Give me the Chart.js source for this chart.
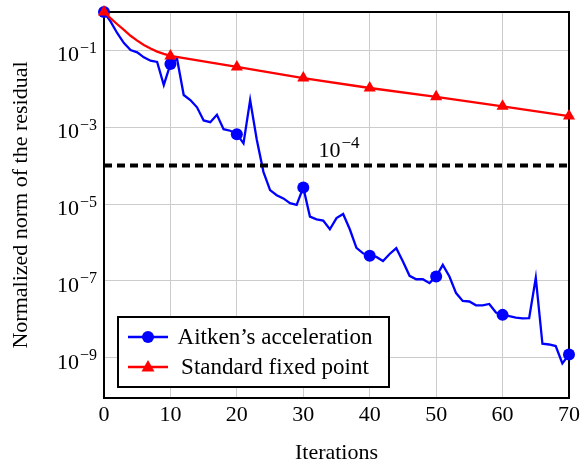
<!DOCTYPE html>
<html>
<head>
<meta charset="utf-8">
<script src="https://cdn.jsdelivr.net/npm/chart.js@4.4.1/dist/chart.umd.min.js"></script>
<style>
  body { margin: 0; background: #fff; }
  #wrap { width: 584px; height: 468px; }
</style>
</head>
<body>
<div id="wrap"><canvas id="chart" width="584" height="468"></canvas></div>
<script>
// values
const aitkenIters = [0,1,2,3,4,5,6,7,8,9,10,11,12,13,14,15,16,17,18,19,20,21,22,23,24,25,26,27,28,29,30,31,32,33,34,35,36,37,38,39,40,41,42,43,44,45,46,47,48,49,50,51,52,53,54,55,56,57,58,59,60,61,62,63,64,65,66,67,68,69,70];
const aitkenVals = [1, 0.56, 0.28, 0.155, 0.102, 0.089, 0.066, 0.054, 0.050, 0.0126,
  0.044, 0.060, 0.0069, 0.0051, 0.0033, 0.0015, 0.00135, 0.0021, 8.9e-4, 8.1e-4,
  6.6e-4, 3.8e-4, 5.1e-3, 4.7e-4, 6.9e-5, 2.3e-5, 1.7e-5, 1.4e-5, 1.05e-5, 9.5e-6,
  2.7e-5, 4.7e-6, 4.0e-6, 3.7e-6, 2.2e-6, 4.3e-6, 5.5e-6, 2.2e-6, 7.2e-7, 5.2e-7,
  4.5e-7, 4.2e-7, 3.3e-7, 5.0e-7, 7.1e-7, 3.2e-7, 1.35e-7, 1.1e-7, 1.1e-7, 8.7e-8,
  1.3e-7, 2.6e-7, 1.3e-7, 4.8e-8, 3.0e-8, 2.9e-8, 2.3e-8, 2.3e-8, 2.5e-8, 1.5e-8,
  1.3e-8, 1.2e-8, 1.1e-8, 1.05e-8, 1.07e-8, 1.2e-7, 2.3e-9, 2.2e-9, 2.0e-9, 7.1e-10,
  1.2e-9];
const fixedIters = [0,1,2,3,4,5,6,7,8,9,10,20,30,40,50,60,70];
const fixedVals = [1, 0.68, 0.48, 0.34, 0.24, 0.18, 0.138, 0.112, 0.093, 0.081, 0.072,
  0.037, 0.019, 0.0105, 0.0062, 0.0035, 0.00195];
const tolerance = 1e-4;
const yTickExps = [-1, -3, -5, -7, -9];
const seriesNames = ['Aitken\u2019s acceleration', 'Standard fixed point'];

const SERIF = '"Liberation Serif", "DejaVu Serif", serif';
const BLUE = '#0000ff';
const RED = '#ff0000';

const markEvery10 = (r) => ctx => (ctx.raw && ctx.raw.x % 10 === 0) ? r : 0;

// draws 10 with a superscript exponent
function drawPow(c, exp, xRight, yMid, big, small) {
  const sup = '\u2212' + Math.abs(exp);
  c.font = small + 'px ' + SERIF;
  const supW = c.measureText(sup).width;
  c.font = big + 'px ' + SERIF;
  const baseW = c.measureText('10').width;
  const x0 = xRight - supW - baseW;
  c.fillStyle = '#000';
  c.textBaseline = 'alphabetic';
  c.textAlign = 'left';
  c.fillText('10', x0, yMid + 11);
  c.font = small + 'px ' + SERIF;
  c.fillText(sup, x0 + baseW + 1, yMid + 2.5);
}

const extras = {
  id: 'extras',
  beforeDatasetsDraw(chart) {
    const { ctx: c, chartArea: a } = chart;
    c.save();
    c.strokeStyle = '#000';
    c.lineWidth = 2;
    c.strokeRect(a.left, a.top, a.right - a.left, a.bottom - a.top);
    c.restore();
  },
  afterDraw(chart) {
    const c = chart.ctx;
    const ys = chart.scales.y, xs = chart.scales.x;
    c.save();
    // y tick labels
    yTickExps.forEach(e => {
      drawPow(c, e, 96, ys.getPixelForValue(Math.pow(10, e)), 22, 16);
    });
    // tolerance label
    const tx = xs.getPixelForValue(35);
    const ty = ys.getPixelForValue(tolerance) - 20;
    drawPow(c, -4, tx + 22, ty, 22, 17);

    // legend box
    const bx = 118, by = 317, bw = 271, bh = 70;
    c.fillStyle = '#fff';
    c.fillRect(bx, by, bw, bh);
    c.strokeStyle = '#000';
    c.lineWidth = 2;
    c.strokeRect(bx, by, bw, bh);
    const rows = [
      { name: seriesNames[0], color: BLUE, y: 337, mark: 'circle' },
      { name: seriesNames[1], color: RED, y: 367, mark: 'triangle' }
    ];
    rows.forEach(r => {
      c.strokeStyle = r.color;
      c.lineWidth = 2.3;
      c.beginPath();
      c.moveTo(128, r.y);
      c.lineTo(168, r.y);
      c.stroke();
      c.fillStyle = r.color;
      c.beginPath();
      if (r.mark === 'circle') {
        c.arc(148, r.y, 6, 0, Math.PI * 2);
      } else {
        c.moveTo(148, r.y - 7);
        c.lineTo(154.5, r.y + 4.5);
        c.lineTo(141.5, r.y + 4.5);
        c.closePath();
      }
      c.fill();
      c.fillStyle = '#000';
      c.font = '23px ' + SERIF;
      c.textAlign = 'center';
      c.textBaseline = 'middle';
      c.fillText(r.name, 275, r.y + 1);
    });
    c.restore();
  }
};

const ctx = document.getElementById('chart').getContext('2d');
new Chart(ctx, {
  type: 'line',
  data: {
    datasets: [
      {
        label: 'tol',
        data: [{ x: 0, y: tolerance }, { x: 70, y: tolerance }],
        borderColor: '#000',
        borderWidth: 4,
        borderDash: [8, 5],
        pointRadius: 0,
        order: 0
      },
      {
        label: seriesNames[1],
        data: fixedIters.map((x, i) => ({ x: x, y: fixedVals[i] })),
        borderColor: RED,
        backgroundColor: RED,
        borderWidth: 2.3,
        pointStyle: 'triangle',
        pointRadius: markEvery10(7),
        pointBorderWidth: 0,
        clip: false,
        order: 1
      },
      {
        label: seriesNames[0],
        data: aitkenIters.map((x, i) => ({ x: x, y: aitkenVals[i] })),
        borderColor: BLUE,
        backgroundColor: BLUE,
        borderWidth: 2.3,
        pointStyle: 'circle',
        pointRadius: markEvery10(6),
        pointBorderWidth: 0,
        clip: false,
        order: 2
      }
    ]
  },
  options: {
    responsive: false,
    animation: false,
    devicePixelRatio: 1,
    layout: { padding: { left: 0, right: 13, top: 12, bottom: 0 } },
    plugins: { legend: { display: false }, tooltip: { enabled: false } },
    elements: { line: { tension: 0 } },
    scales: {
      x: {
        type: 'linear',
        min: 0,
        max: 70,
        afterFit: s => { s.height = 70; },
        ticks: { stepSize: 10, color: '#000', padding: 4, font: { family: SERIF, size: 22 } },
        grid: { color: '#cccccc', lineWidth: 1, drawTicks: false },
        border: { display: false },
        title: { display: true, text: 'Iterations', color: '#000', padding: { top: 0, bottom: 2 },
                 font: { family: SERIF, size: 22 } }
      },
      y: {
        type: 'logarithmic',
        min: 8.9e-11,
        max: 1,
        afterFit: s => { s.width = 104; },
        afterBuildTicks: s => { s.ticks = yTickExps.map(e => ({ value: Math.pow(10, e) })); },
        ticks: { display: false },
        grid: { color: '#cccccc', lineWidth: 1, drawTicks: false },
        border: { display: false },
        title: { display: true, text: 'Normalized norm of the residual', color: '#000',
                 padding: { top: 8, bottom: 0 }, font: { family: SERIF, size: 22 } }
      }
    }
  },
  plugins: [extras]
});
</script>
</body>
</html>
